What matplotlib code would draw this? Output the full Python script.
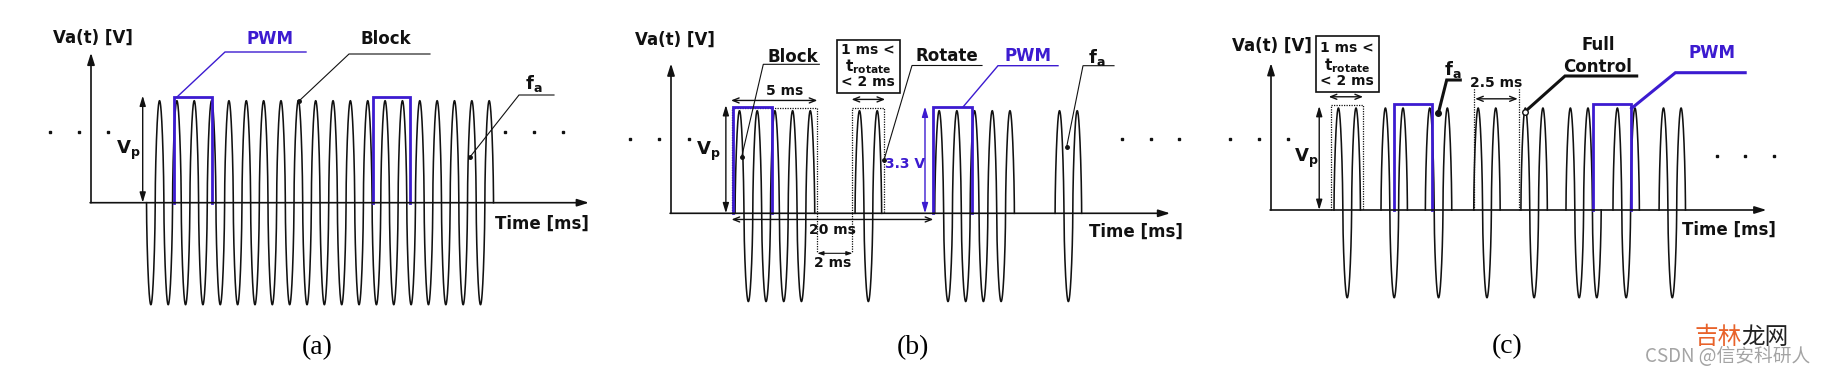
import numpy as np
import matplotlib
matplotlib.use('Agg')
import matplotlib.pyplot as plt
import matplotlib.transforms as mtransforms
from matplotlib.patches import Rectangle

plt.rcParams['mathtext.fontset'] = 'dejavusans'
plt.rcParams['font.family'] = ['DejaVu Sans']

# ---------------- data (time in ms: one carrier cycle = 1 ms; amplitude in Vp) -------------
# Panel (a): continuous carrier with PWM windows
a_burst_start = [3.2]
a_burst_halfcycles = [40]
a_burst_first_sign = [-1]
a_pwm_on = [4.8, 16.25]
a_pwm_off = [7.0, 18.4]

# Panel (b): block / rotate bursts
b_burst_start = [3.62, 10.4, 14.9, 21.7]
b_burst_halfcycles = [9, 3, 9, 3]
b_burst_first_sign = [1, 1, 1, 1]
b_pwm_on = [3.52, 14.82]
b_pwm_off = [5.69, 16.99]

# Panel (c): full control
c_burst_start = [3.58, 6.25, 8.77, 11.52, 14.2, 16.76, 19.43, 22.05]
c_burst_halfcycles = [3, 3, 3, 3, 3, 4, 3, 3]
c_burst_first_sign = [1, 1, 1, 1, 1, 1, 1, 1]
c_pwm_on = [6.97, 18.3]
c_pwm_off = [9.15, 20.45]

pwm_level = 1.04

# ---------------- figure / layout ----------------
W, H = 1830, 375
fig = plt.figure(figsize=(W / 100, H / 100), dpi=100)
BLUE = '#3c1bd0'
INK = '#111111'
PX = mtransforms.Affine2D().scale(1 / W, -1 / H).translate(0, 1) + fig.transFigure
SMALL = 10


def make_panel(x0, x1, ox, oy, sx, A):
    ax = fig.add_axes([x0 / W, 0, (x1 - x0) / W, 1])
    ax.set_xlim((x0 - ox) / sx, (x1 - ox) / sx)
    ax.set_ylim((oy - H) / A, oy / A)
    ax.axis('off')
    return ax


def draw_bursts(ax, starts, halfs, signs, neg):
    for s, n, sg in zip(starts, halfs, signs):
        t = np.linspace(0, n * 0.5, int(n * 400) + 1)
        v = sg * np.sin(2 * np.pi * t)
        y = np.sign(v) * np.abs(v) ** 0.6
        y = np.where(y < 0, y * neg, y)
        ax.plot(s + t, y, color=INK, lw=1.15, clip_on=False)


def draw_pwm(ax, on, off):
    for a, b in zip(on, off):
        ax.plot([a, a, b, b], [0, pwm_level, pwm_level, 0], color=BLUE, lw=2.0,
                solid_joinstyle='miter', clip_on=False, zorder=3)


def axes_arrows(ax, xend, ytop):
    st = '-|>,head_length=0.7,head_width=0.22'
    ax.annotate('', xy=(0, ytop), xytext=(0, 0),
                arrowprops=dict(arrowstyle=st, color=INK, lw=1.2, shrinkA=0, shrinkB=0))
    ax.annotate('', xy=(xend, 0), xytext=(-0.05, 0),
                arrowprops=dict(arrowstyle=st, color=INK, lw=1.2, shrinkA=0, shrinkB=0))


def darrow(ax, p1, p2, color=INK, style='<|-|>,head_length=0.6,head_width=0.18', lw=1.0):
    ax.annotate('', xy=p2, xytext=p1,
                arrowprops=dict(arrowstyle=style, color=color, lw=lw, shrinkA=0, shrinkB=0))


def dim_arrow(ax, x1, x2, y):
    darrow(ax, (x1, y), (x2, y), style='<->,head_length=0.45,head_width=0.18', lw=1.0)


def dotted_box(ax, x1, x2, top):
    ax.plot([x1, x1, x2, x2], [0, top, top, 0], color=INK, lw=0.9, ls=(0, (1, 1)), clip_on=False)


def label(x, y, s, size=12, color=INK, weight='bold', **kw):
    fig.text(x, y, s, transform=PX, ha=kw.pop('ha', 'center'), va=kw.pop('va', 'center'),
             fontsize=size, color=color, fontweight=weight, **kw)


def leader(pts, color=INK, lw=0.8, dot=True, dotsize=2.5, open_dot=False):
    xs = [p[0] for p in pts]
    ys = [p[1] for p in pts]
    fig.add_artist(plt.Line2D(xs, ys, transform=PX, color=color, lw=lw,
                              solid_joinstyle='miter'))
    if dot:
        fig.add_artist(plt.Line2D([xs[0]], [ys[0]], transform=PX, marker='o',
                                  markersize=dotsize, color=color, lw=0,
                                  markerfacecolor='white' if open_dot else color))


def dots(xs, y):
    for x in xs:
        fig.add_artist(plt.Line2D([x], [y], transform=PX, marker='s', markersize=1.8,
                                  color=INK, lw=0))


VP = r'$\mathbf{V}_\mathbf{p}$'
FA = r'$\mathbf{f}_\mathbf{a}$'
TROT = r'$\mathbf{t}_\mathbf{rotate}$'

# ================= Panel (a) =================
axa = make_panel(0, 610, 91, 202.7, 17.35, 102)
draw_bursts(axa, a_burst_start, a_burst_halfcycles, a_burst_first_sign, 1.0)
draw_pwm(axa, a_pwm_on, a_pwm_off)
axes_arrows(axa, 28.7, 1.47)
darrow(axa, (2.98, 0), (2.98, 1.05))
label(93, 38, 'Va(t) [V]')
label(270, 39, 'PWM', color=BLUE)
leader([(177, 97), (225, 52), (306, 52)], color=BLUE, lw=1.0, dot=False)
label(386, 39, 'Block')
leader([(299, 101), (349, 54), (430, 54)])
label(534, 84, FA, size=13)
leader([(470, 157), (519, 95), (554, 95)])
label(128, 150, VP, size=13)
label(542, 224, 'Time [ms]')
dots([50, 79, 108], 132)
dots([505, 534, 563], 132)
fig.text(317, 348, '(a)', transform=PX, ha='center', va='center', fontsize=20,
         family=['Liberation Serif', 'DejaVu Serif'])

# ================= Panel (b) =================
axb = make_panel(610, 1220, 671, 213.3, 17.7, 102.6)
draw_bursts(axb, b_burst_start, b_burst_halfcycles, b_burst_first_sign, 0.86)
draw_pwm(axb, b_pwm_on, b_pwm_off)
axes_arrows(axb, 28.2, 1.46)
pad = 0.15
b_end = [s + n * 0.5 for s, n in zip(b_burst_start, b_burst_halfcycles)]
box1 = (b_burst_start[0] - pad, b_end[0] + pad)
box2 = (b_burst_start[1] - pad, b_end[1] + pad)
dotted_box(axb, box1[0], box1[1], 1.03)
dotted_box(axb, box2[0], box2[1], 1.03)
axb.plot([box1[1], box1[1]], [0, -0.39], color=INK, lw=0.9, ls=(0, (1, 1)))
axb.plot([box2[0], box2[0]], [0, -0.39], color=INK, lw=0.9, ls=(0, (1, 1)))
dim_arrow(axb, box1[0] - 0.08, box1[1], 1.10)
dim_arrow(axb, box2[0] - 0.05, box2[1] + 0.05, 1.11)
dim_arrow(axb, b_pwm_on[0] - 0.1, b_pwm_on[1], -0.06)
darrow(axb, (box1[1], -0.39), (box2[0], -0.39), style='<|-|>,head_length=0.35,head_width=0.12', lw=0.8)
darrow(axb, (b_pwm_on[1] - 0.47, 0), (b_pwm_on[1] - 0.47, pwm_level), color=BLUE)
darrow(axb, (3.1, 0), (3.1, 1.055))
label(675, 40, 'Va(t) [V]')
label(793, 57, 'Block')
leader([(741.7, 156.7), (763.3, 64.3), (819.3, 64.3)])
fig.add_artist(Rectangle((836.7, 40), 63.3, 53.3, transform=PX, fill=False, ec=INK, lw=1.2))
label(868.3, 49.5, '1 ms <', size=SMALL)
label(868.3, 66.5, TROT, size=11)
label(868.3, 82, '< 2 ms', size=SMALL)
label(947, 56, 'Rotate')
leader([(884, 160), (912, 65.5), (982, 65.5)])
label(1028, 56, 'PWM', color=BLUE)
leader([(963, 107), (998, 65.7), (1058, 65.7)], color=BLUE, lw=1.0, dot=False)
label(1097, 58, FA, size=13)
leader([(1066.7, 146.7), (1083, 65.7), (1114, 65.7)])
label(785, 91, '5 ms', size=SMALL)
label(832.7, 230, '20 ms', size=SMALL)
label(832.7, 263, '2 ms', size=SMALL)
label(905, 164, '3.3 V', size=SMALL, color=BLUE)
label(708, 151, VP, size=13)
label(1136, 231.7, 'Time [ms]')
dots([630, 659, 688.7], 139.3)
dots([1122.3, 1150.7, 1179.3], 139.3)
fig.text(913, 348, '(b)', transform=PX, ha='center', va='center', fontsize=20,
         family=['Liberation Serif', 'DejaVu Serif'])

# ================= Panel (c) =================
axc = make_panel(1220, 1830, 1271, 210, 17.6, 102)
draw_bursts(axc, c_burst_start, c_burst_halfcycles, c_burst_first_sign, 0.86)
draw_pwm(axc, c_pwm_on, c_pwm_off)
axes_arrows(axc, 28.15, 1.44)
c_end = [s + n * 0.5 for s, n in zip(c_burst_start, c_burst_halfcycles)]
cbox = (c_burst_start[0] - pad, c_end[0] + pad)
dotted_box(axc, cbox[0], cbox[1], 1.03)
dim_arrow(axc, cbox[0] - 0.15, cbox[1], 1.11)
g1, g2 = c_burst_start[3], c_burst_start[4] - 0.1
axc.plot([g1, g1], [0, 1.2], color=INK, lw=0.9, ls=(0, (1, 1)))
axc.plot([g2, g2], [0, 1.2], color=INK, lw=0.9, ls=(0, (1, 1)))
dim_arrow(axc, g1 + 0.08, g2 - 0.08, 1.09)
darrow(axc, (2.74, 0), (2.74, 1.02))
label(1272, 46, 'Va(t) [V]')
fig.add_artist(Rectangle((1315.7, 36), 63.3, 55.7, transform=PX, fill=False, ec=INK, lw=1.2))
label(1347, 48.3, '1 ms <', size=SMALL)
label(1347, 66, TROT, size=11)
label(1347, 81, '< 2 ms', size=SMALL)
label(1453, 70, FA, size=13)
leader([(1438.3, 113.3), (1446.7, 80), (1460.3, 80)], lw=2.2, dotsize=4)
label(1496, 83.3, '2.5 ms', size=SMALL)
label(1598, 45, 'Full')
label(1598, 66.7, 'Control')
leader([(1525, 111.7), (1565, 76), (1636.7, 76)], lw=2.2, dotsize=4, open_dot=True)
label(1711.5, 53.3, 'PWM', color=BLUE)
leader([(1631.6, 108.3), (1675.4, 72.7), (1745.2, 72.7)], color=BLUE, lw=2.2, dot=False)
label(1306, 158, VP, size=13)
label(1728.5, 230, 'Time [ms]')
dots([1229.7, 1258.8, 1287.8], 139.3)
dots([1716.9, 1745.2, 1774.3], 156)
fig.text(1506.8, 346.7, '(c)', transform=PX, ha='center', va='center', fontsize=20,
         family=['Liberation Serif', 'DejaVu Serif'])

# watermark
CJK = ['Noto Sans CJK SC', 'DejaVu Sans']
fig.text(1695, 338, '吉林', transform=PX, ha='left', va='center', fontsize=17,
         color='#e8622a', family=CJK)
fig.text(1741, 338, '龙网', transform=PX, ha='left', va='center', fontsize=17,
         color='#222222', family=CJK)
fig.text(1728, 356, 'CSDN @信安科研人', transform=PX, ha='center', va='center', fontsize=13.5,
         color='#9a9a9a', family=CJK, alpha=0.9)

fig.savefig('out.png', dpi=100, facecolor='white')
